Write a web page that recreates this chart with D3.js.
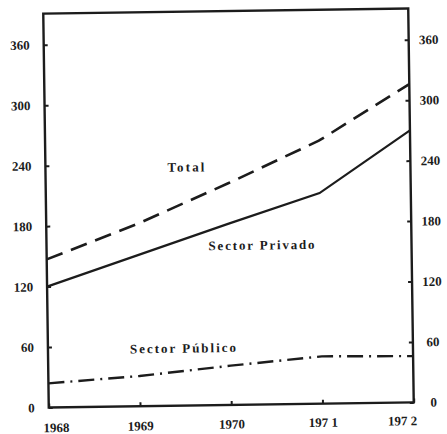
<!DOCTYPE html>
<html><head><meta charset="utf-8">
<script src="https://cdn.jsdelivr.net/npm/d3@7"></script>
<style>
html,body{margin:0;padding:0;background:#fff;}
svg{display:block;}
text{font-family:"Liberation Serif","DejaVu Serif",serif;font-weight:bold;fill:#1c1c1c;}
</style></head>
<body>
<script>
const years = [1968, 1969, 1970, 1971, 1972];
const total = [147, 181, 220, 261, 316];
const privado = [120, 150, 180, 209, 270];
const publico = [24, 30, 39, 47, 46];
const yTicks = [0, 60, 120, 180, 240, 300, 360];
const yearLabels = ["1968", "1969", "1970", "197 1", "197 2"];
const seriesLabels = ["Total", "Sector Privado", "Sector Público"];

const W = 447, H = 434;
const L = 46, R = 411, T = 11, B = 405;
const ink = "#1c1c1c";

const svg = d3.select("body").append("svg").attr("width", W).attr("height", H);
const g = svg.append("g").attr("transform", "rotate(-0.8,228,208)");

const x = d3.scaleLinear().domain([1968, 1972]).range([L, R]);
const y = d3.scaleLinear().domain([0, 391]).range([B, T]);

// frame
g.append("rect").attr("x", L).attr("y", T).attr("width", R - L).attr("height", B - T)
  .attr("fill", "none").attr("stroke", ink).attr("stroke-width", 2.4);

// left axis
const ax1 = g.append("g").attr("transform", `translate(${L},0)`)
  .call(d3.axisLeft(y).tickValues(yTicks).tickSize(-4).tickPadding(14));
// right axis
const ax2 = g.append("g").attr("transform", `translate(${R},0)`)
  .call(d3.axisRight(y).tickValues(yTicks).tickSize(-4).tickPadding(20));
ax2.selectAll("text").attr("text-anchor", "middle");
// bottom axis
const ax3 = g.append("g").attr("transform", `translate(0,${B})`)
  .call(d3.axisBottom(x).tickValues(years).tickSize(-4).tickPadding(15)
    .tickFormat((d, i) => yearLabels[i]));
ax3.selectAll("text")
  .attr("dx", (d, i) => i === 0 ? 7 : (i === years.length - 1 ? -12 : 0))
  .attr("y", (d, i) => [15.5, 15, 14.5, 14, 13.5][i]);

[ax1, ax2, ax3].forEach(a => {
  a.select(".domain").remove();
  a.selectAll("line").attr("stroke", ink).attr("stroke-width", 2);
  a.selectAll("text").attr("font-size", 13).attr("fill", ink)
    .style("font-family", '"Liberation Serif",serif').style("font-weight", "bold");
});

const line = d3.line().x((d, i) => x(years[i])).y(d => y(d));

g.append("path").datum(total).attr("d", line).attr("fill", "none")
  .attr("stroke", ink).attr("stroke-width", 2.6).attr("stroke-dasharray", "17,9");
g.append("path").datum(privado).attr("d", line).attr("fill", "none")
  .attr("stroke", ink).attr("stroke-width", 2.2);
g.append("path").datum(publico).attr("d", line).attr("fill", "none")
  .attr("stroke", ink).attr("stroke-width", 2.4).attr("stroke-dasharray", "16,6,2,6");

// series labels
const labelPos = [
  {t: seriesLabels[0], x: 168, y: 171, w: 37},
  {t: seriesLabels[1], x: 208, y: 250, w: 106},
  {t: seriesLabels[2], x: 128, y: 352, w: 106}
];
g.selectAll("text.lbl").data(labelPos).enter().append("text").attr("class", "lbl")
  .attr("x", d => d.x).attr("y", d => d.y).attr("font-size", 13)
  .attr("textLength", d => d.w).attr("lengthAdjust", "spacing")
  .text(d => d.t);
</script>
</body></html>
